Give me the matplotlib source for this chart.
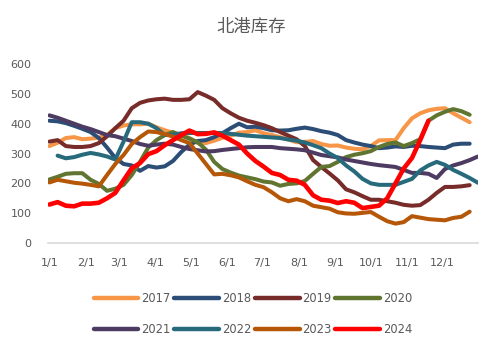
import numpy as np
import matplotlib
matplotlib.use("Agg")
import matplotlib.pyplot as plt

nan = np.nan

# weekly stock readings (week 0 = 1/1)
v2017 = [325, 336, 352, 355, 348, 350, 353, 362, 385, 394,
         398, 398, 400, 388, 378, 370, 362, 352, 335, 335,
         343, 353, 360, 370, 372, 378, 368, 362, 355, 347,
         338, 339, 342, 332, 326, 327, 320, 316, 314, 325,
         344, 345, 345, 385, 418, 435, 445, 450, 452, 435,
         420, 405, nan]
v2018 = [410, 408, 402, 393, 383, 372, 352, 320, 285, 265,
         260, 242, 258, 253, 257, 275, 305, 330, 342, 345,
         355, 368, 385, 400, 388, 390, 385, 378, 377, 378,
         383, 387, 382, 375, 370, 362, 345, 337, 330, 325,
         318, 320, 324, 322, 326, 325, 322, 320, 318, 330,
         333, 333, nan]
v2019 = [340, 345, 325, 322, 322, 325, 335, 358, 385, 410,
         452, 470, 478, 482, 484, 480, 480, 482, 506, 494,
         480, 452, 435, 420, 410, 403, 395, 385, 372, 360,
         348, 325, 278, 255, 233, 210, 180, 170, 157, 145,
         145, 140, 135, 128, 125, 127, 145, 168, 188, 188,
         190, 194, nan]
v2020 = [213, 222, 232, 234, 234, 212, 198, 175, 182, 195,
         228, 272, 320, 345, 362, 372, 360, 350, 338, 313,
         272, 248, 236, 226, 220, 214, 206, 203, 192, 198,
         200, 208, 232, 255, 258, 272, 288, 296, 301, 308,
         322, 332, 337, 325, 335, 348, 410, 428, 440, 449,
         442, 430, nan]
v2021 = [428, 420, 410, 400, 390, 382, 372, 362, 358, 350,
         342, 332, 326, 330, 333, 330, 322, 315, 311, 307,
         308, 312, 315, 318, 321, 322, 322, 322, 318, 316,
         314, 311, 303, 295, 291, 287, 280, 275, 270, 265,
         261, 258, 255, 245, 235, 235, 232, 218, 248, 260,
         268, 278, 290]
v2022 = [nan, 293, 284, 288, 296, 302, 297, 290, 280, 340,
         405, 405, 400, 385, 362, 363, 368, 369, 369, 369,
         369, 369, 366, 363, 360, 358, 356, 354, 352, 347,
         343, 337, 328, 318, 300, 285, 260, 240, 215, 200,
         195, 195, 195, 205, 215, 243, 260, 272, 262, 245,
         232, 218, 202]
v2023 = [203, 212, 207, 202, 199, 195, 190, 228, 265, 295,
         332, 355, 374, 372, 365, 357, 345, 335, 300, 265,
         230, 232, 227, 220, 207, 195, 187, 170, 150, 140,
         147, 140, 125, 120, 115, 103, 99, 98, 101, 104,
         88, 73, 65, 70, 90, 85, 80, 78, 76, 84,
         88, 105, nan]
v2024 = [129, 137, 125, 123, 132, 132, 135, 150, 168, 210,
         251, 268, 298, 308, 328, 345, 362, 377, 365, 366,
         371, 360, 345, 330, 300, 275, 256, 235, 228, 212,
         209, 195, 160, 145, 142, 134, 140, 135, 117, 121,
         125, 150, 200, 250, 285, 345, 410, nan, nan, nan,
         nan, nan, nan]

years = ["2017", "2018", "2019", "2020", "2021", "2022", "2023", "2024"]
series = [v2017, v2018, v2019, v2020, v2021, v2022, v2023, v2024]
colors = ["#F79646", "#2C4D75", "#772C2A", "#5F7530",
          "#4D3B62", "#276A7C", "#B65708", "#FF0000"]

month_labels = ["1/1", "2/1", "3/1", "4/1", "5/1", "6/1",
                "7/1", "8/1", "9/1", "10/1", "11/1", "12/1"]
month_days = [0, 31, 59, 90, 120, 151, 181, 212, 243, 273, 304, 334]

days = 7 * np.arange(53)

fig = plt.figure(figsize=(5.02, 3.54), dpi=100)
ax = fig.add_axes([0.096, 0.3136, 0.856, 0.5054])

lines = []
for name, vals, c in zip(years, series, colors):
    lw = 3.3 if name == "2024" else 2.9
    ln, = ax.plot(days, np.array(vals, dtype=float), color=c, lw=lw, label=name,
                  solid_capstyle="round", solid_joinstyle="round")
    lines.append(ln)

ax.set_xlim(-1, 364)
ax.set_ylim(0, 600)
ax.set_yticks(range(0, 601, 100))
ax.set_xticks(month_days)
ax.set_xticklabels(month_labels)
ax.tick_params(axis="both", length=0, labelsize=8, colors="#595959")
ax.tick_params(axis="y", pad=12)
ax.tick_params(axis="x", pad=11)
for side in ["top", "right", "left"]:
    ax.spines[side].set_visible(False)
ax.spines["bottom"].set_color("#D9D9D9")
ax.spines["bottom"].set_linewidth(1.2)

fig.text(0.5, 0.923, "北港库存", ha="center", va="center", fontsize=12.5,
         color="#595959", weight="light",
         family=["Noto Sans CJK SC", "DejaVu Sans"])

# legend fills column by column, so interleave to get rows of four
order = [0, 4, 1, 5, 2, 6, 3, 7]
leg = fig.legend([lines[i] for i in order], [years[i] for i in order],
                 loc="center", bbox_to_anchor=(0.504, 0.112), ncol=4,
                 frameon=False, fontsize=8.3, handlelength=3.9,
                 handletextpad=0.25, columnspacing=0.3, labelspacing=1.55)
for t in leg.get_texts():
    t.set_color("#595959")
for h in leg.get_lines():
    h.set_linewidth(3.2)
    h.set_solid_capstyle("round")

fig.savefig("out.png", dpi=100)
